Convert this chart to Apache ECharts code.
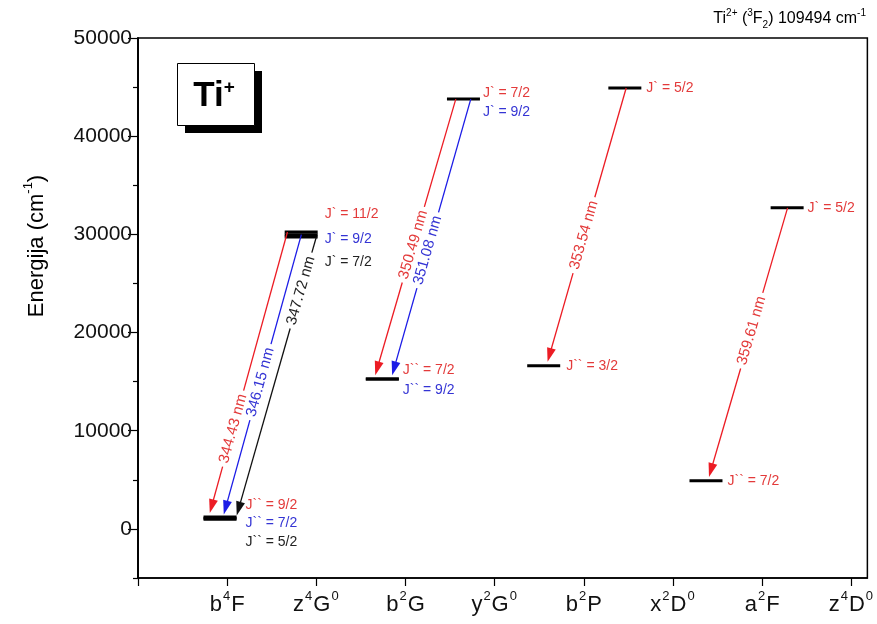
<!DOCTYPE html>
<html><head><meta charset="utf-8">
<script src="https://cdn.jsdelivr.net/npm/echarts@6/dist/echarts.min.js"></script>
<style>html,body{margin:0;padding:0;background:#fff}#c{width:877px;height:624px}</style>
</head><body><div id="c"></div>
<script>
// ---- categories (spectroscopic terms) ----
const termBase = ['b','z','b','y','b','x','a','z'];
const termMult = ['4','4','2','2','2','2','2','4'];
const termL    = ['F','G','G','G','P','D','F','D'];
const termPar  = ['','0','','0','','0','','0'];
const termX    = [0.92,1.83,2.74,3.65,4.55,5.46,6.37,7.28];
const xTicks   = [0,1,2,3,4,5,6,7,8];
const xLabelTicks = [1,2,3,4,5,6,7,8];
const yTicks   = [0,10000,20000,30000,40000,50000];
const yMinorTicks = [-5000,5000,15000,25000,35000,45000];

// ---- energy levels (cm-1) ----
const levelTerm   = [0,0,0,1,1,1,2,2,3,4,5,6,7];
const levelEnergy = [1216,1087,984,30241,29968,29734,15257,15266,43780,16625,44910,4898,32700];

// ---- transitions ----
const trWave   = ['344.43','346.15','347.72','350.49','351.08','353.54','359.61'];
const trUpperE = [30241,29968,29734,43780,43780,44910,32700];
const trLowerE = [1216,1087,984,15257,15266,16625,4898];
const trUpperX = [1.676,1.832,2.000,3.564,3.732,5.475,7.285];
const trLowerX = [0.793,0.950,1.095,2.648,2.838,4.581,6.391];
const trColor  = ['r','b','k','r','b','r','r'];
const trLabelT = [0.69,0.52,0.19,0.52,0.54,0.53,0.45];

// ---- J labels ----
const jText   = ['J` = 11/2','J` = 9/2','J` = 7/2','J`` = 9/2','J`` = 7/2','J`` = 5/2','J` = 7/2','J` = 9/2','J`` = 7/2','J`` = 9/2','J` = 5/2','J`` = 3/2','J` = 5/2','J`` = 7/2'];
const jTerm   = [1,1,1,0,0,0,3,3,2,2,5,4,7,6];
const jEnergy = [30241,30241,30241,1216,1216,1216,43780,43780,15257,15257,44910,16625,32700,4898];
const jColor  = ['r','b','k','r','b','k','r','b','r','b','r','r','r','r'];
const jDx     = [7,7,7,9,9,9,3,3,4,4,5,6,4,5];
const jDy     = [-18,7,30,-12,6,25,-6,13,-9,11,0,0,0,0];

const COL = {r:'#ec1c24', b:'#1c1ce6', k:'#111111'};
const TCOL = {r:'#e33a3a', b:'#3434d4', k:'#222222'};
const HW = 0.185;
const FONT = "'Liberation Sans', Arial, sans-serif";

const mctx = document.createElement('canvas').getContext('2d');
function textW(t, size){ mctx.font = size + 'px ' + FONT; return mctx.measureText(t).width; }

const chart = echarts.init(document.getElementById('c'), null, {renderer:'canvas'});

const supRich = {
  n:{fontSize:22, fontFamily:FONT, color:'#111', lineHeight:26, verticalAlign:'bottom'},
  s:{fontSize:13, fontFamily:FONT, color:'#111', lineHeight:26, verticalAlign:'top', padding:[0,1,0,1]}
};

chart.setOption({
  animation:false,
  backgroundColor:'#fff',
  grid:{left:138, right:7, top:38, bottom:46, show:true, borderColor:'#000', borderWidth:1.5, backgroundColor:'transparent'},
  xAxis:{
    type:'value', min:0, max:8.18, interval:1,
    axisLine:{onZero:false, lineStyle:{color:'#000', width:1.5}},
    axisTick:{show:true, length:8, customValues:xTicks, lineStyle:{color:'#000', width:1.2}},
    axisLabel:{customValues:xLabelTicks, margin:12, formatter:function(v){
      const i = Math.round(v)-1; if(i<0||i>7) return '';
      return '{n|'+termBase[i]+'}{s|'+termMult[i]+'}{n|'+termL[i]+'}' + (termPar[i]?'{s|'+termPar[i]+'}':'');
    }, rich:supRich},
    splitLine:{show:false}
  },
  yAxis:[{
    type:'value', min:-5000, max:50000, interval:5000,
    axisLine:{show:true, onZero:false, lineStyle:{color:'#000', width:1.5}},
    axisTick:{show:true, length:5, customValues:yMinorTicks, lineStyle:{color:'#000', width:1.2}},
    axisLabel:{show:false},
    splitLine:{show:false}
  },{
    type:'value', min:-5000, max:50000, interval:5000, position:'left',
    axisLine:{show:true, onZero:false, lineStyle:{color:'#000', width:1.5}},
    axisTick:{show:true, length:10, customValues:yTicks, lineStyle:{color:'#000', width:1.2}},
    axisLabel:{customValues:yTicks, fontSize:21, fontFamily:FONT, color:'#111', margin:6,
      formatter:function(v){ return String(Math.round(v)); }},
    splitLine:{show:false}
  }],
  graphic:[
    {type:'rect', left:185, top:71, shape:{width:77, height:62}, style:{fill:'#000'}},
    {type:'rect', left:177, top:63, shape:{width:77, height:62}, style:{fill:'#fff', stroke:'#000', lineWidth:1}},
    {type:'text', x:214, y:96, style:{text:'{t|Ti}{p|+}', align:'center', verticalAlign:'middle',
      rich:{t:{fontSize:35, fontWeight:'bold', fontFamily:FONT, color:'#000', lineHeight:36, verticalAlign:'bottom'},
            p:{fontSize:19, fontWeight:'bold', fontFamily:FONT, color:'#000', lineHeight:36, verticalAlign:'top'}}}},
    {type:'text', x:866, y:19, style:{text:'{n|Ti}{s|2+}{n| (}{s|3}{n|F}{d|2}{n|) 109494 cm}{s|-1}', align:'right', verticalAlign:'middle',
      rich:{n:{fontSize:16, fontFamily:FONT, color:'#111', lineHeight:20, verticalAlign:'middle'},
            s:{fontSize:10, fontFamily:FONT, color:'#111', lineHeight:20, verticalAlign:'top'},
            d:{fontSize:10, fontFamily:FONT, color:'#111', lineHeight:22, verticalAlign:'bottom'}}}},
    {type:'text', x:35, y:246, rotation:Math.PI/2, style:{text:'{n|Energija (cm}{s|-1}{n|)}', align:'center', verticalAlign:'middle',
      rich:{n:{fontSize:22, fontFamily:FONT, color:'#111', lineHeight:26, verticalAlign:'bottom'},
            s:{fontSize:13, fontFamily:FONT, color:'#111', lineHeight:26, verticalAlign:'top'}}}}
  ],
  series:[
    {
      type:'custom', name:'levels', xAxisIndex:0, yAxisIndex:0, clip:false,
      encode:{x:0, y:1},
      data: levelEnergy.map((e,i)=>[termX[levelTerm[i]], e]),
      renderItem:function(params, api){
        const x = api.value(0), e = api.value(1);
        const a = api.coord([x-HW, e]), b = api.coord([x+HW, e]);
        return {type:'line', shape:{x1:a[0], y1:a[1], x2:b[0], y2:b[1]}, style:{stroke:'#000', lineWidth:3}};
      }
    },
    {
      type:'custom', name:'transitions', xAxisIndex:0, yAxisIndex:0, clip:false,
      encode:{x:[0,2], y:[1,3]},
      data: trWave.map((w,i)=>[trUpperX[i], trUpperE[i], trLowerX[i], trLowerE[i]]),
      renderItem:function(params, api){
        const i = params.dataIndex;
        const p1 = api.coord([api.value(0), api.value(1)]);
        const p2 = api.coord([api.value(2), api.value(3)]);
        const dx = p2[0]-p1[0], dy = p2[1]-p1[1];
        const L = Math.sqrt(dx*dx+dy*dy); const ux = dx/L, uy = dy/L;
        const tip = [p2[0]-ux*4, p2[1]-uy*4];
        const HL = 14, HWd = 4.5;
        const base = [tip[0]-ux*HL, tip[1]-uy*HL];
        const nx = -uy, ny = ux;
        const t = trLabelT[i];
        const c = [p1[0]+dx*t, p1[1]+dy*t];
        const label = trWave[i] + ' nm';
        const g = textW(label, 15)/2 + 4;
        const col = COL[trColor[i]];
        const ang = Math.atan2(-(p1[1]-p2[1]), p1[0]-p2[0]);
        return {type:'group', children:[
          {type:'line', shape:{x1:p1[0], y1:p1[1], x2:c[0]-ux*g, y2:c[1]-uy*g}, style:{stroke:col, lineWidth:1.3}},
          {type:'line', shape:{x1:c[0]+ux*g, y1:c[1]+uy*g, x2:base[0]+ux*2, y2:base[1]+uy*2}, style:{stroke:col, lineWidth:1.3}},
          {type:'polygon', shape:{points:[tip, [base[0]+nx*HWd, base[1]+ny*HWd], [base[0]-nx*HWd, base[1]-ny*HWd]]}, style:{fill:col}},
          {type:'text', x:c[0], y:c[1], rotation:ang, style:{text:label, align:'center', verticalAlign:'middle', fill:TCOL[trColor[i]], font:'15px '+FONT}}
        ]};
      }
    },
    {
      type:'custom', name:'jlabels', xAxisIndex:0, yAxisIndex:0, clip:false,
      encode:{x:0, y:1},
      data: jText.map((s,i)=>[termX[jTerm[i]]+HW, jEnergy[i]]),
      renderItem:function(params, api){
        const i = params.dataIndex;
        const p = api.coord([api.value(0), api.value(1)]);
        return {type:'text', x:p[0]+jDx[i], y:p[1]+jDy[i], style:{text:jText[i], align:'left', verticalAlign:'middle', fill:TCOL[jColor[i]], font:'14px '+FONT}};
      }
    }
  ]
});
</script>
</body></html>
